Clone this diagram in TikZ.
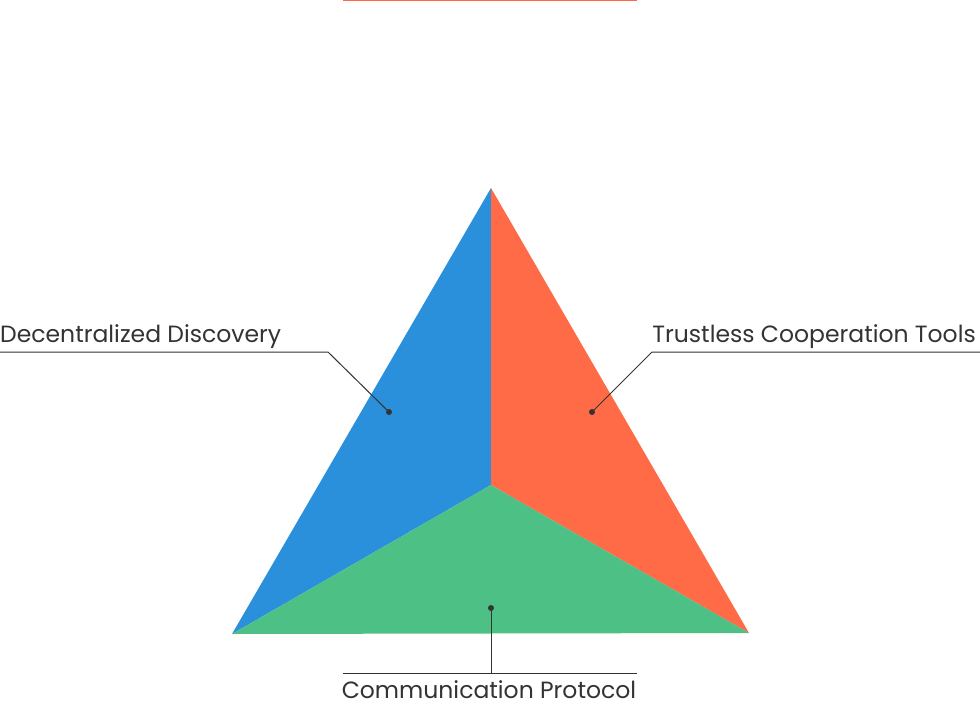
\documentclass[tikz,border=0pt]{standalone}
\usepackage{fontspec}
\setmainfont{Poppins}
\definecolor{cblue}{HTML}{2B90DC}
\definecolor{corange}{HTML}{FF6A47}
\definecolor{cgreen}{HTML}{4DC085}
\definecolor{ctext}{HTML}{333333}
\begin{document}
\begin{tikzpicture}[x=1pt,y=-1pt,
  lbl/.style={inner sep=0pt,text=ctext,font=\fontsize{23.5}{28}\selectfont},
  leader/.style={draw=ctext,line width=1pt},
  dot/.style={circle,fill=ctext,inner sep=0pt,minimum size=6pt}]
\useasboundingbox (0,0) rectangle (980,703);
\coordinate (apex) at (491,188);
\coordinate (bl) at (232,634);
\coordinate (br) at (749,633);
\coordinate (ctr) at (491,485);
\fill[cblue] (apex) -- (ctr) -- (bl) -- cycle;
\fill[corange] (apex) -- (br) -- (ctr) -- cycle;
\fill[cgreen] (ctr) -- (br) -- (bl) -- cycle;
\draw[corange,line width=2pt] (343,0) -- (637,0);
% left
\node[dot] (dl) at (389,412) {};
\coordinate (kl) at (328,352);
\coordinate (el) at (0,352);
\draw[leader] (el) -- (kl) -- (dl.center);
\node[lbl,anchor=base west] (tl) at (0,342) {Decentralized Discovery};
% right
\node[dot] (dr) at (592,412) {};
\coordinate (kr) at (652,352);
\coordinate (er) at (980,352);
\draw[leader] (er) -- (kr) -- (dr.center);
\node[lbl,anchor=base east] (tr) at (976,342) {Trustless Cooperation Tools};
% bottom
\node[dot] (db) at (491,608) {};
\coordinate (kb) at (491,673);
\coordinate (eb1) at (343,673);
\coordinate (eb2) at (637,673);
\draw[leader] (db.center) -- (kb);
\draw[leader] (eb1) -- (eb2);
\node[lbl,anchor=base] (tb) at (489,698) {Communication Protocol};
\end{tikzpicture}
\end{document}
